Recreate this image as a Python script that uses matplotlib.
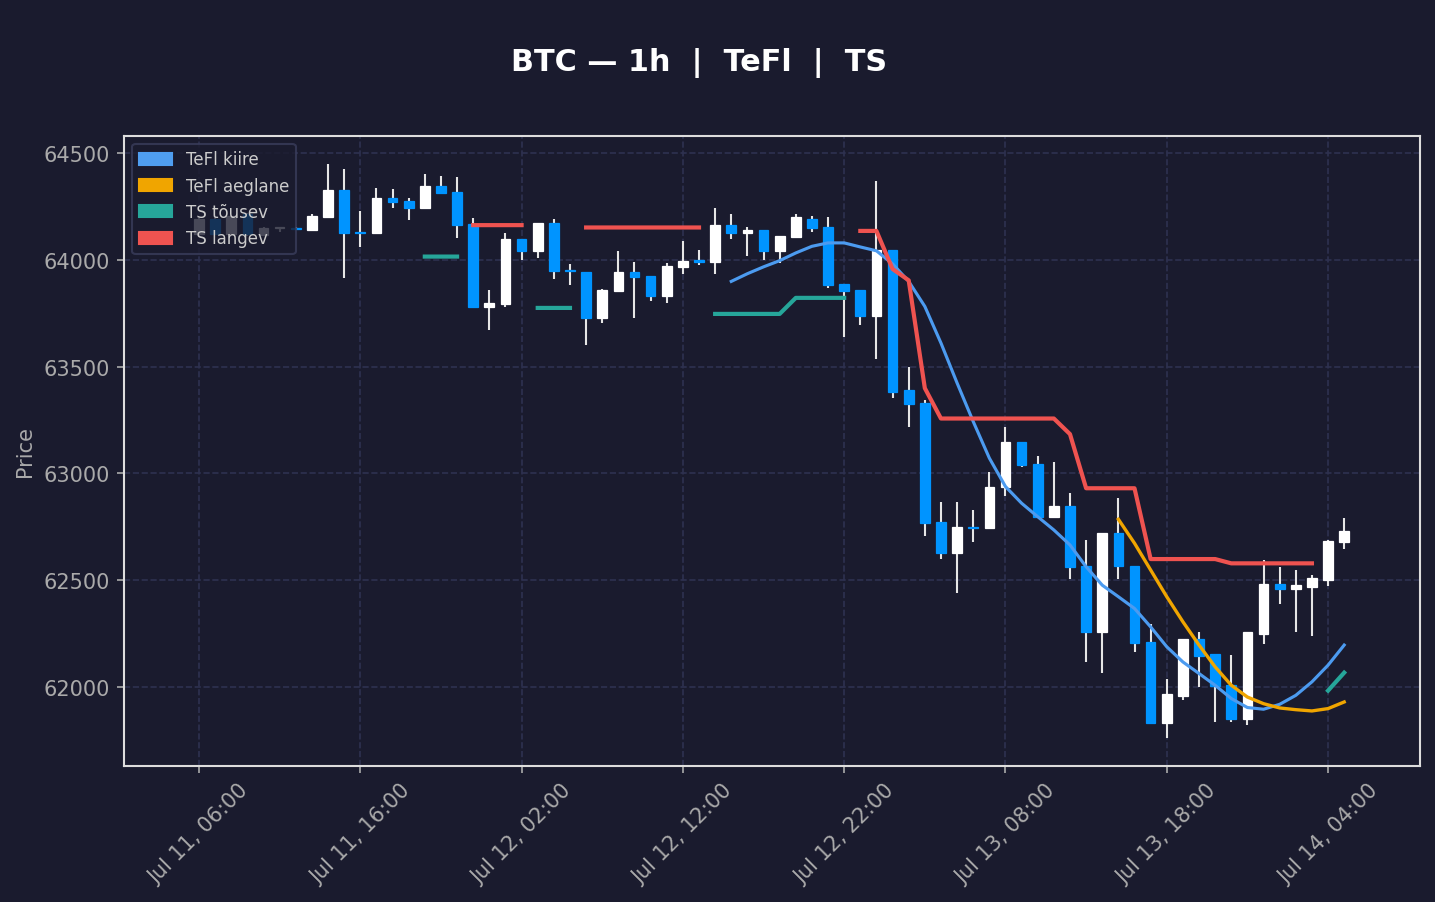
import numpy as np
import matplotlib
matplotlib.use("Agg")
import matplotlib.pyplot as plt
import matplotlib.dates as mdates
from matplotlib.patches import Patch
from datetime import datetime, timedelta

# hourly candles, Jul 11 06:00 -> Jul 14 05:00
start = datetime(2024, 7, 11, 6, 0)
times = [start + timedelta(hours=i) for i in range(72)]

opens = [64120, 64190, 64120, 64214, 64116, 64146, 64147, 64138, 64198, 64323,
         64130, 64123, 64286, 64276, 64240, 64346, 64317, 64167, 63780, 63793,
         64097, 64041, 64172, 63950, 63942, 63727, 63852, 63942, 63924, 63830,
         63966, 63995, 63989, 64162, 64125, 64140, 64041, 64106, 64190, 64153,
         63886, 63858, 63735, 64047, 63391, 63329, 62772, 62627, 62752, 62744,
         62936, 63146, 63044, 62798, 62848, 62567, 62261, 62720, 62567, 62210,
         61834, 61960, 62224, 62154, 62013, 61854, 62252, 62483, 62458, 62470,
         62503, 62678]
highs = [64195, 64195, 64205, 64216, 64150, 64150, 64150, 64215, 64445, 64425,
         64226, 64336, 64332, 64289, 64398, 64389, 64384, 64195, 63860, 64126,
         64097, 64172, 64192, 63977, 63942, 63863, 64042, 63991, 63924, 63986,
         64089, 64047, 64243, 64211, 64153, 64140, 64111, 64215, 64206, 64197,
         63886, 63858, 64365, 64047, 63500, 63345, 62868, 62868, 62830, 63006,
         63219, 63146, 63082, 63053, 62909, 62689, 62720, 62886, 62567, 62296,
         62038, 62224, 62257, 62154, 62151, 62257, 62594, 62561, 62549, 62525,
         62689, 62794]
lows = [64115, 64115, 64115, 64110, 64112, 64128, 64140, 64138, 64198, 63914,
        64058, 64118, 64239, 64187, 64240, 64312, 64100, 63779, 63672, 63777,
        63997, 64006, 63908, 63880, 63603, 63702, 63852, 63725, 63805, 63795,
        63931, 63973, 63931, 64095, 64019, 64000, 63983, 64106, 64128, 63866,
        63636, 63692, 63536, 63352, 63219, 62708, 62601, 62442, 62681, 62744,
        62896, 63032, 62798, 62798, 62506, 62119, 62068, 62508, 62166, 61828,
        61764, 61943, 62002, 61838, 61838, 61826, 62204, 62391, 62260, 62241,
        62474, 62647]
closes = [64190, 64120, 64203, 64118, 64148, 64149, 64143, 64206, 64323, 64123,
          64125, 64286, 64270, 64239, 64346, 64312, 64162, 63779, 63797, 64097,
          64041, 64172, 63947, 63945, 63727, 63858, 63942, 63919, 63830, 63970,
          63994, 63990, 64162, 64125, 64140, 64041, 64111, 64197, 64147, 63881,
          63852, 63735, 64047, 63383, 63324, 62767, 62627, 62749, 62746, 62939,
          63146, 63039, 62798, 62848, 62561, 62261, 62720, 62567, 62206, 61834,
          61967, 62224, 62148, 62007, 61854, 62257, 62483, 62458, 62477, 62510,
          62684, 62731]

nan = np.nan
tefl_fast = [nan] * 33 + [63898, 63934, 63966, 63995, 64031, 64062, 64078, 64078,
                          64059, 64041, 63980, 63898, 63781, 63610, 63423, 63243,
                          63072, 62939, 62861, 62798, 62736, 62666, 62564, 62478,
                          62424, 62369, 62283, 62190, 62119, 62065, 62010, 61948,
                          61906, 61898, 61921, 61963, 62026, 62104, 62198]
tefl_slow = [nan] * 57 + [62786, 62674, 62549, 62424, 62307, 62198, 62096, 62010,
                          61955, 61924, 61904, 61896, 61890, 61901, 61932]

ts_up = ([nan] * 14 + [64014] * 3 + [nan] * 4 + [63774] * 3 + [nan] * 8
         + [63746] * 5 + [63821] * 4 + [nan] * 29 + [61985, 62069])
ts_down = ([nan] * 17 + [64161] * 4 + [nan] * 3 + [64150] * 8 + [nan] * 9
           + [64134, 64134, 63956, 63903, 63399] + [63257] * 8 + [63184]
           + [62931] * 4 + [62600] * 5 + [62580] * 6 + [nan] * 2)

bg = '#1a1b2e'
up_col = '#ffffff'
down_col = '#0094ff'
wick_col = '#e6e6e6'

fig = plt.figure(figsize=(1435 / 150, 903 / 150), dpi=150, facecolor=bg)
ax = fig.add_axes([124 / 1435, 1 - 766.5 / 903, (1420 - 124) / 1435, (766.5 - 136.5) / 903])
ax.set_facecolor(bg)

x = mdates.date2num(times)
o = np.array(opens, float)
c = np.array(closes, float)
h = np.array(highs, float)
l = np.array(lows, float)
up = c >= o
cols = np.where(up, up_col, down_col)

ax.vlines(x, l, h, color=wick_col, linewidth=1.0, zorder=2)
body_bottom = np.minimum(o, c)
body_h = np.maximum(np.abs(c - o), 6)
ax.bar(x, body_h, bottom=body_bottom, width=0.6 / 24, color=cols,
       edgecolor=cols, linewidth=0.6, zorder=3)

ax.plot(x, tefl_fast, color='#4c9bf0', linewidth=1.5, zorder=4)
ax.plot(x, tefl_slow, color='#f0a500', linewidth=1.6, zorder=4)
ax.plot(x, ts_up, color='#26a69a', linewidth=2.0, zorder=4)
ax.plot(x, ts_down, color='#ef5350', linewidth=2.0, zorder=4)

hour = 1 / 24
ax.set_xlim(x[0] - 4.65 * hour, x[0] + 75.7 * hour)
ax.set_ylim(61635, 64580)
ax.set_xticks(x[::10])
ax.xaxis.set_major_formatter(mdates.DateFormatter('%b %d, %H:%M'))
plt.setp(ax.get_xticklabels(), rotation=45, ha='center')

ax.grid(True, color='#2e3150', linestyle='--', linewidth=0.8)
ax.set_axisbelow(True)
for s in ax.spines.values():
    s.set_color('#dddddd')
    s.set_linewidth(1.0)
ax.tick_params(colors='#aaaaaa', labelsize=10)
ax.set_ylabel('Price', color='#aaaaaa', fontsize=10)

handles = [Patch(color='#4f9ef0', label='TeFl kiire'),
           Patch(color='#f0a500', label='TeFl aeglane'),
           Patch(color='#26a69a', label='TS tõusev'),
           Patch(color='#ef5350', label='TS langev')]
leg = ax.legend(handles=handles, loc='upper left', fontsize=8,
                facecolor=bg, edgecolor='#3a3d5c', framealpha=0.8)
for t in leg.get_texts():
    t.set_color('#cccccc')

fig.text(699.5 / 1435, 1 - 63 / 903, 'BTC — 1h  |  TeFl  |  TS', color='white',
         fontsize=14.5, fontweight='bold', ha='center', va='center')

fig.savefig('out.png', dpi=150, facecolor=bg)
